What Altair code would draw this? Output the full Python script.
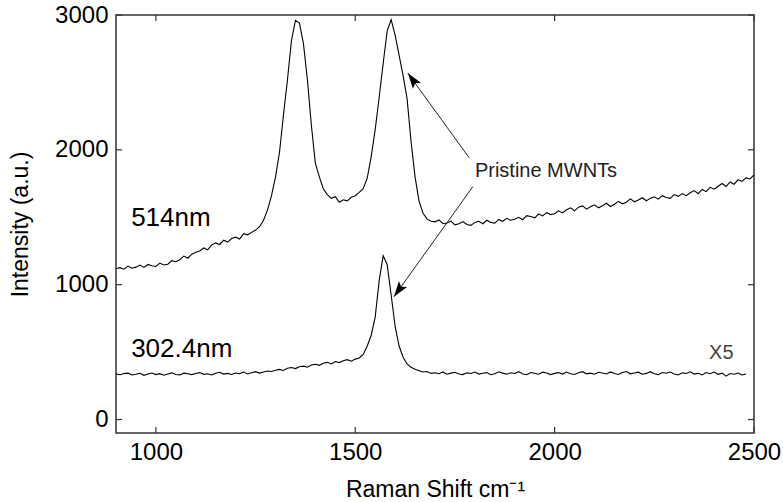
import altair as alt
import pandas as pd

# ---------------- data ----------------
shift_514 = list(range(900, 2501, 10))
int_514 = [
    1118, 1126, 1115, 1138, 1122, 1130, 1145, 1128, 1150, 1141,
    1135, 1160, 1146, 1152, 1178, 1170, 1185, 1212, 1196, 1226,
    1240, 1250, 1272, 1258, 1295, 1310, 1298, 1330, 1316, 1342,
    1352, 1338, 1378, 1370, 1388, 1405, 1430, 1478, 1555, 1660,
    1800, 1980, 2260, 2520, 2810, 2960, 2940, 2790, 2520, 2180,
    1900, 1800, 1710, 1668, 1640, 1652, 1612, 1630, 1622, 1648,
    1660, 1684, 1712, 1790, 1950, 2150, 2390, 2640, 2880, 2965,
    2850, 2700, 2550, 2380, 2060, 1800, 1620, 1530, 1488, 1470,
    1466, 1480, 1452, 1458, 1472, 1444, 1452, 1468, 1446, 1440,
    1462, 1470, 1452, 1478, 1462, 1456, 1484, 1470, 1492, 1478,
    1485, 1500, 1482, 1512, 1505, 1496, 1524, 1510, 1534, 1520,
    1526, 1548, 1532, 1556, 1570, 1548, 1575, 1584, 1560, 1578,
    1592, 1570, 1586, 1604, 1580, 1596, 1618, 1600, 1612, 1636,
    1615, 1628, 1645, 1622, 1640, 1652, 1634, 1660, 1646, 1640,
    1668, 1655, 1676, 1660, 1682, 1698, 1675, 1706, 1690, 1722,
    1708, 1730, 1750, 1728, 1762, 1745, 1778, 1766, 1792, 1784,
    1815,
]

shift_302 = list(range(900, 2481, 10))
int_302 = [
    338, 332, 341, 344, 330, 336, 343, 328, 337, 345,
    333, 340, 329, 338, 346, 334, 331, 344, 339, 333,
    341, 348, 335, 339, 330, 343, 350, 337, 342, 334,
    345, 340, 352, 338, 347, 355, 344, 352, 360, 356,
    366, 372, 364, 380, 386, 378, 392, 396, 388, 404,
    410, 402, 418, 424, 412, 430, 422, 436, 444, 432,
    448, 456, 482, 545, 625, 760, 1030, 1215, 1150, 925,
    690, 545, 462, 412, 388, 372, 362, 352, 356, 342,
    347, 340, 353, 336, 344, 350, 338, 333, 346, 341,
    352, 337, 343, 348, 332, 340, 354, 344, 336, 347,
    341, 355, 338, 332, 349, 343, 336, 351, 345, 333,
    342, 348, 337, 352, 340, 334, 347, 355, 339, 344,
    336, 350, 345, 338, 353, 341, 334, 348, 356, 339,
    345, 351, 336, 342, 355, 340, 333, 349, 343, 352,
    338, 330, 346, 341, 354, 337, 343, 331, 348, 340,
    352, 335, 344, 322, 341, 336, 345, 330, 338,
]

x_ticks = [1000, 1500, 2000, 2500]
y_ticks = [0, 1000, 2000, 3000]

# ---------------- chart ----------------
W, H = 638, 418
FONT = "Liberation Sans"

df = pd.concat([
    pd.DataFrame({"shift": shift_514, "intensity": int_514, "series": "514nm"}),
    pd.DataFrame({"shift": shift_302, "intensity": int_302, "series": "302.4nm"}),
])

xs = alt.Scale(domain=[900, 2500], nice=False, zero=False)
ys = alt.Scale(domain=[-100, 3000], nice=False, zero=False)

x_axis = alt.Axis(
    title="Raman Shift cm⁻¹", values=x_ticks, format="d", tickSize=0, domain=False,
    grid=False, labelFontSize=24, labelPadding=7, labelColor="black",
    labelFont=FONT, titleFont=FONT, titleFontSize=23, titleFontWeight="normal",
    titleColor="black", titleX=W / 2, titleY=56, titleBaseline="middle",
    labelFlush=False, labelOverlap=False)
y_axis = alt.Axis(
    title="Intensity (a.u.)", values=y_ticks, format="d", tickSize=0, domain=False,
    grid=False, labelFontSize=24, labelPadding=8, labelColor="black",
    labelFont=FONT, titleFont=FONT, titleFontSize=23, titleFontWeight="normal",
    titleColor="black", titleX=-96, titleY=H / 2, titleAngle=270,
    titleBaseline="middle", titleAlign="center", labelFlush=False,
    labelOverlap=False)

lines = alt.Chart(df).mark_line(color="black", strokeWidth=1.1).encode(
    x=alt.X("shift:Q", scale=xs, axis=x_axis),
    y=alt.Y("intensity:Q", scale=ys, axis=y_axis),
    detail="series:N",
)

xt = pd.DataFrame({"v": x_ticks})
yt = pd.DataFrame({"v": y_ticks})
tick_color = "#333333"
bottom_ticks = alt.Chart(xt).mark_rule(color=tick_color, strokeWidth=1.2).encode(
    x=alt.X("v:Q", scale=xs, axis=x_axis), y=alt.value(H), y2=alt.value(H - 6))
top_ticks = alt.Chart(xt).mark_rule(color=tick_color, strokeWidth=1.2).encode(
    x=alt.X("v:Q", scale=xs, axis=x_axis), y=alt.value(0), y2=alt.value(6))
left_ticks = alt.Chart(yt).mark_rule(color=tick_color, strokeWidth=1.2).encode(
    y=alt.Y("v:Q", scale=ys, axis=y_axis), x=alt.value(0), x2=alt.value(6))
right_ticks = alt.Chart(yt).mark_rule(color=tick_color, strokeWidth=1.2).encode(
    y=alt.Y("v:Q", scale=ys, axis=y_axis), x=alt.value(W), x2=alt.value(W - 6))


def label(txt, x, y, size, color="black", align="left"):
    return alt.Chart().mark_text(
        text=txt, font=FONT, fontSize=size, color=color, align=align,
        baseline="middle").encode(x=alt.datum(x, scale=xs), y=alt.datum(y, scale=ys))


lbl_514 = label("514nm", 938, 1495, 26)
lbl_302 = label("302.4nm", 938, 520, 26)
lbl_x5 = label("X5", 2418, 495, 20, color="#444444", align="center")
lbl_pm = label("Pristine MWNTs", 1800, 1840, 20, color="#222222")


def arrow_line(x1, y1, x2, y2):
    return alt.Chart().mark_rule(color="#222222", strokeWidth=1).encode(
        x=alt.datum(x1, scale=xs), y=alt.datum(y1, scale=ys),
        x2=alt.datum(x2), y2=alt.datum(y2))


HEAD = "M0,0 L-0.65,2 L0,1.6 L0.65,2 Z"


def arrow_head(x, y, ang):
    return alt.Chart().mark_point(
        shape=HEAD, filled=True, color="black", size=240, angle=ang,
        opacity=1).encode(x=alt.datum(x, scale=xs), y=alt.datum(y, scale=ys))


arrows = [
    arrow_line(1786, 1940, 1632, 2568), arrow_head(1632, 2568, 324),
    arrow_line(1795, 1727, 1597, 911), arrow_head(1597, 911, 216),
]

chart = alt.layer(
    lines, bottom_ticks, top_ticks, left_ticks, right_ticks,
    lbl_514, lbl_302, lbl_x5, lbl_pm, *arrows,
).properties(
    width=W, height=H,
    autosize=alt.AutoSizeParams(type="none"),
    padding={"left": 116, "top": 15, "right": 783 - 116 - W, "bottom": 502 - 15 - H},
    background="white",
).configure_view(stroke="#333333", strokeWidth=1.5)

chart.save("out.html", embed_options={"renderer": "svg", "actions": False})
